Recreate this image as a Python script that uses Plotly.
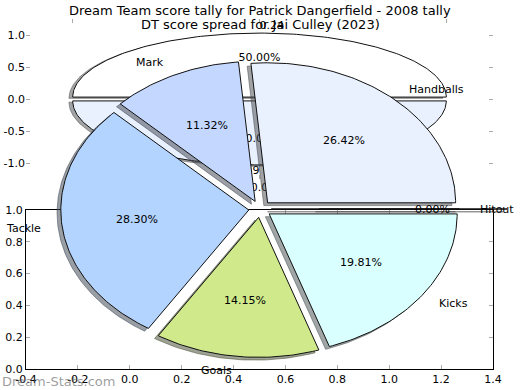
import numpy as np
import plotly.graph_objects as go

W, H = 520, 390
FONT = "DejaVu Sans"

main_title = "Dream Team score tally for Patrick Dangerfield - 2008 tally"
sub_title = "DT score spread for Jai Culley (2023)"
watermark = "Dream-Stats.com"

# Jai Culley 2023 pie (DT points by stat)
jai_labels = ["Hitout", "Handballs", "Mark", "Tackle", "Goals", "Kicks", ""]
jai_values = [0, 28, 12, 30, 15, 21, 0]
jai_colors = ["#ffffff", "#eaf1fe", "#c4d8ff", "#b3d4ff", "#cfe98b", "#d9ffff", "#ffffff"]
jai_explode = [0.06, 0.06, 0.06, 0.06, 0.06, 0.06, 0.315]
jai_show_pct = [False, True, True, True, True, True, True]

# Patrick Dangerfield 2008 pie
pd_labels = ["0.24", "0.19"]
pd_values = [1, 1]
pd_colors = ["#ffffff", "#eaf1fe"]
pd_explode = [0.03, 0.03]

upper_xticks = [-1.0, 0.0, 1.0]
upper_yticks = [-1.0, -0.5, 0.0, 0.5, 1.0]
lower_xticks = [-0.4, -0.2, 0.0, 0.2, 0.4, 0.6, 0.8, 1.0, 1.2, 1.4]
lower_yticks = [0.0, 0.2, 0.4, 0.6, 0.8, 1.0]


def fmt_ticks(vals):
    return ["%.1f" % v for v in vals]


def hex_rgb(h):
    h = h.lstrip("#")
    return tuple(int(h[i:i + 2], 16) for i in (0, 2, 4))


def wedges(values, explode):
    total = float(sum(values))
    out = []
    t = 0.0
    for v, e in zip(values, explode):
        frac = v / total
        t1, t2 = t, t + 360.0 * frac
        mid = np.deg2rad((t1 + t2) / 2)
        dx, dy = e * np.cos(mid), e * np.sin(mid)
        n = max(2, int(abs(t2 - t1)) + 2)
        ang = np.deg2rad(np.linspace(t1, t2, n))
        xs = np.concatenate([[dx], dx + np.cos(ang), [dx]])
        ys = np.concatenate([[dy], dy + np.sin(ang), [dy]])
        out.append(dict(x=xs, y=ys, mid=mid, dx=dx, dy=dy, frac=frac))
        t = t2
    return out


fig = go.Figure()


def add_pie(values, explode, colors, xa, ya):
    ws = wedges(values, explode)
    # shadows first (below all wedges)
    for w, c in zip(ws, colors):
        r, g, b = hex_rgb(c)
        sc = "rgba(%d,%d,%d,0.5)" % (0.3 * r, 0.3 * g, 0.3 * b)
        fig.add_trace(go.Scatter(x=w["x"] - 0.02, y=w["y"] - 0.02, mode="lines",
                                 fill="toself", fillcolor=sc,
                                 line=dict(color=sc, width=1),
                                 xaxis=xa, yaxis=ya, hoverinfo="skip", showlegend=False))
    for w, c in zip(ws, colors):
        fig.add_trace(go.Scatter(x=w["x"], y=w["y"], mode="lines",
                                 fill="toself", fillcolor=c,
                                 line=dict(color="#111111", width=1),
                                 xaxis=xa, yaxis=ya, hoverinfo="skip", showlegend=False))
    return ws


# ---- upper axes: Patrick Dangerfield pie ----
pd_w = add_pie(pd_values, pd_explode, pd_colors, "x", "y")
tx, ty, tpos, tt = [], [], [], []
for w, lab in zip(pd_w, pd_labels):
    lx = w["dx"] + 1.1 * np.cos(w["mid"])
    ly = w["dy"] + 1.1 * np.sin(w["mid"])
    tx.append(lx); ty.append(ly)
    tpos.append("middle right" if lx > 0 else "middle left")
    tt.append(lab)
    tx.append(w["dx"] + 0.6 * np.cos(w["mid"]))
    ty.append(w["dy"] + 0.6 * np.sin(w["mid"]))
    tpos.append("middle center")
    tt.append("%.2f%%" % (100 * w["frac"]))
fig.add_trace(go.Scatter(x=tx, y=ty, mode="text", text=tt, textposition=tpos,
                         textfont=dict(family=FONT, size=11, color="black"),
                         xaxis="x", yaxis="y", hoverinfo="skip", showlegend=False))

# ---- top-level Jai Culley pie ----
jai_w = add_pie(jai_values, jai_explode, jai_colors, "x3", "y3")

annotations = []
for w, lab, show in zip(jai_w, jai_labels, jai_show_pct):
    lx = w["dx"] + 1.1 * np.cos(w["mid"])
    ly = w["dy"] + 1.1 * np.sin(w["mid"])
    if lab:
        annotations.append(dict(x=lx, y=ly, xref="x3", yref="y3", text=lab,
                                showarrow=False, xanchor="left" if lx > 0 else "right",
                                yanchor="middle", font=dict(family=FONT, size=11, color="black")))
    if show:
        annotations.append(dict(x=w["dx"] + 0.6 * np.cos(w["mid"]),
                                y=w["dy"] + 0.6 * np.sin(w["mid"]),
                                xref="x3", yref="y3", text="%.2f%%" % (100 * w["frac"]),
                                showarrow=False, xanchor="center", yanchor="middle",
                                font=dict(family=FONT, size=11, color="black")))

annotations.append(dict(x=0.5, y=1 - 10 / H, xref="paper", yref="paper", text=main_title,
                        showarrow=False, xanchor="center", yanchor="middle",
                        font=dict(family=FONT, size=13, color="black")))
annotations.append(dict(x=0.5, y=1 - 25 / H, xref="paper", yref="paper", text=sub_title,
                        showarrow=False, xanchor="center", yanchor="middle",
                        font=dict(family=FONT, size=13, color="black")))
annotations.append(dict(x=0, y=1 - 381 / H, xref="paper", yref="paper", text=watermark,
                        showarrow=False, xanchor="left", yanchor="middle",
                        font=dict(family=FONT, size=13, color="rgba(90,90,90,0.6)")))

tick_font = dict(family=FONT, size=11, color="black")
xdom = [26 / W, 493 / W]
common = dict(ticks="inside", ticklen=4, tickcolor="#aaaaaa", showgrid=False, zeroline=False,
              tickfont=tick_font, automargin=False, mirror="ticks")

fig.update_layout(
    width=W, height=H, margin=dict(l=0, r=0, t=0, b=0, pad=0, autoexpand=False),
    paper_bgcolor="white", plot_bgcolor="rgba(0,0,0,0)",
    showlegend=False, annotations=annotations,
    xaxis=dict(domain=xdom, range=[-1.25, 1.25], tickvals=upper_xticks,
               ticktext=fmt_ticks(upper_xticks), showline=False, anchor="y", **common),
    yaxis=dict(domain=[1 - 179 / H, 1 - 19 / H], range=[-1.25, 1.25], tickvals=upper_yticks,
               ticktext=fmt_ticks(upper_yticks), showline=False, anchor="x", **common),
    xaxis2=dict(domain=xdom, range=[-0.4, 1.4], tickvals=lower_xticks,
                ticktext=fmt_ticks(lower_xticks), showline=True,
                linecolor="black", linewidth=1, anchor="y2", **common),
    yaxis2=dict(domain=[1 - 369 / H, 1 - 210 / H], range=[0, 1], tickvals=lower_yticks,
                ticktext=fmt_ticks(lower_yticks), showline=True, linecolor="black",
                linewidth=1, anchor="x2", **common),
    xaxis3=dict(domain=[0, 1], range=[-260 / 188, 260 / 188], visible=False, anchor="y3",
                automargin=False),
    yaxis3=dict(domain=[0, 1], range=[-(H - 209) / 140, 209 / 140], visible=False, anchor="x3",
                automargin=False),
)

# keep an empty trace on the lower axes so it is drawn
fig.add_trace(go.Scatter(x=[None], y=[None], xaxis="x2", yaxis="y2", showlegend=False))

fig.write_html("out.html", config={"displayModeBar": False},
               post_script="document.body.style.margin='0';document.body.style.overflow='hidden';")
